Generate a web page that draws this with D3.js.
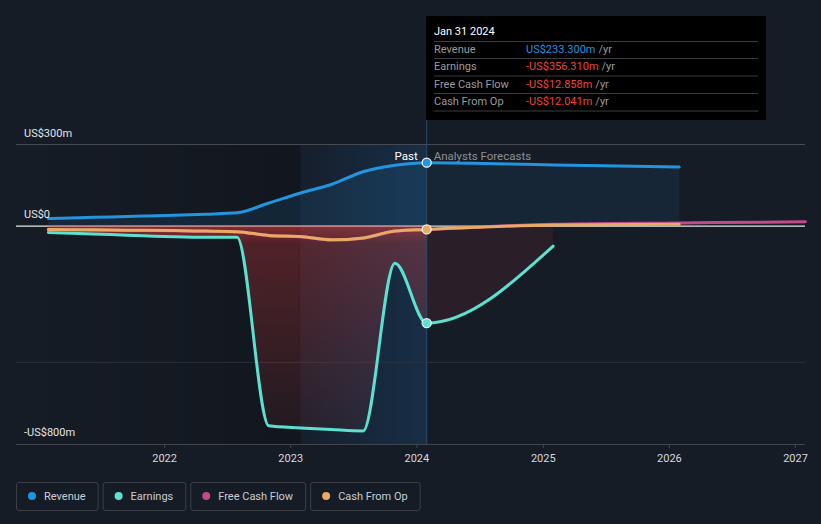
<!DOCTYPE html>
<html><head><meta charset="utf-8">
<script src="https://cdn.jsdelivr.net/npm/d3@7"></script>
<style>
html,body{margin:0;padding:0;background:#161c26;}
svg{display:block;font-family:Roboto,"Open Sans",sans-serif;}
</style></head><body>
<svg id="chart" width="821" height="524"></svg>
<script>
// ---- data ----
const pastDates = ["2021-01-31","2021-04-30","2021-07-31","2021-10-31","2022-01-31","2022-04-30","2022-07-31","2022-10-31","2023-01-31","2023-04-30","2023-07-31","2023-10-31","2024-01-31"];
const revenuePast  = [28, 31, 34, 37, 40, 44, 49, 85, 122, 153, 200, 224, 233.3];
const earningsPast = [-23, -27, -31, -35, -39, -41, -41, -733, -741, -747, -752, -136, -356.31];
const fcfPast      = [-13, -14, -15, -16, -17, -19, -21, -35, -39, -51, -44, -19, -12.858];
const cfoPast      = [-12, -13, -14, -15, -16, -18, -20, -34, -38, -50, -43, -18, -12.041];
const forecastDates    = ["2025-01-31","2026-01-31","2027-01-31"];
const revenueForecast  = [225, 217];
const earningsForecast = [-73];
const fcfForecast      = [7, 12, 16];
const cfoForecast      = [4, 7];
const yearTicks = [2022, 2023, 2024, 2025, 2026, 2027];
const yLabelValues = [300, 0, -800];
const yLabelTexts = ["US$300m", "US$0", "-US$800m"];
const yGridValues = [300, -500];
const seriesNames = ["Revenue", "Earnings", "Free Cash Flow", "Cash From Op"];
const seriesColors = ["#2394df", "#5ce0d0", "#c2498a", "#e8aa64"];
const tooltipTitle = "Jan 31 2024";
const tooltipValues = ["US$233.300m", "-US$356.310m", "-US$12.858m", "-US$12.041m"];

const W = 821, H = 524;
const parse = d3.timeParse("%Y-%m-%d");
const nowDate = parse(pastDates[pastDates.length - 1]);
const highlightStart = parse("2023-01-31");

function build(past, fc) {
  const a = past.map((v, i) => ({date: parse(pastDates[i]), v}));
  fc.forEach((v, i) => a.push({date: parse(forecastDates[i]), v}));
  return a;
}
const revenue = build(revenuePast, revenueForecast);
const earnings = build(earningsPast, earningsForecast);
const fcf = build(fcfPast, fcfForecast);
const cfo = build(cfoPast, cfoForecast);

const x = d3.scaleTime().domain([new Date(2021, 0, 1), new Date(2027, 0, 1)]).range([38, 795]);
const y = d3.scaleLinear().domain([-800, 300]).range([444, 144.5]);
const plotL = 16, plotR = 805, plotT = y(300), plotB = 444;
const xNow = x(nowDate), xHl = x(highlightStart);

const svg = d3.select("#chart");
const defs = svg.append("defs");

// gradients
const gPast = defs.append("linearGradient").attr("id", "pastShade").attr("x1", 0).attr("x2", 1).attr("y1", 0).attr("y2", 0);
gPast.append("stop").attr("offset", 0).attr("stop-color", "#000").attr("stop-opacity", 0);
gPast.append("stop").attr("offset", 1).attr("stop-color", "#000").attr("stop-opacity", 0.2);
const gHl = defs.append("linearGradient").attr("id", "hl").attr("x1", 0).attr("x2", 1).attr("y1", 0).attr("y2", 0);
gHl.append("stop").attr("offset", 0).attr("stop-color", "#1a5a94").attr("stop-opacity", 0.05);
gHl.append("stop").attr("offset", 1).attr("stop-color", "#1a5a94").attr("stop-opacity", 0.3);
const gRed = defs.append("linearGradient").attr("id", "redPast").attr("gradientUnits", "userSpaceOnUse")
  .attr("x1", 0).attr("x2", 0).attr("y1", y(0)).attr("y2", plotB);
gRed.append("stop").attr("offset", 0).attr("stop-color", "#e03c3c").attr("stop-opacity", 0.55);
gRed.append("stop").attr("offset", 0.08).attr("stop-color", "#e03c3c").attr("stop-opacity", 0.3);
gRed.append("stop").attr("offset", 1).attr("stop-color", "#e03c3c").attr("stop-opacity", 0.06);

defs.append("clipPath").attr("id", "clipPast").append("rect").attr("x", 0).attr("y", 0).attr("width", xNow).attr("height", H);
defs.append("clipPath").attr("id", "clipFc").append("rect").attr("x", xNow).attr("y", 0).attr("width", W - xNow).attr("height", H);

svg.append("rect").attr("width", W).attr("height", H).attr("fill", "#161c26");

// past shading and highlight
svg.append("rect").attr("x", plotL).attr("y", plotT).attr("width", xHl - plotL).attr("height", plotB - plotT).attr("fill", "url(#pastShade)");
svg.append("rect").attr("x", xHl).attr("y", plotT).attr("width", xNow - xHl).attr("height", plotB - plotT).attr("fill", "url(#hl)");

// gridlines
svg.selectAll("line.grid").data(yGridValues).join("line").attr("class", "grid")
  .attr("x1", plotL).attr("x2", plotR).attr("y1", d => y(d)).attr("y2", d => y(d))
  .attr("stroke", (d, i) => i === 0 ? "#464a52" : "#2c313a").attr("stroke-width", 1);

// x axis
const xAxis = d3.axisBottom(x).tickValues(yearTicks.map(yr => new Date(yr, 0, 1))).tickFormat(d3.timeFormat("%Y")).tickSize(4).tickPadding(6);
const gx = svg.append("g").attr("transform", `translate(0,${plotB})`).call(xAxis);
gx.select(".domain").remove();
gx.selectAll(".tick line").attr("stroke", "#41464e");
gx.selectAll(".tick text").attr("fill", "#d6d8db").attr("font-size", 11).attr("font-family", "Roboto");
svg.append("line").attr("x1", plotL).attr("x2", plotR).attr("y1", plotB + 0.5).attr("y2", plotB + 0.5).attr("stroke", "#41464e");

// zero line
svg.append("line").attr("x1", plotL).attr("x2", plotR).attr("y1", y(0)).attr("y2", y(0)).attr("stroke", "#e6e6e6").attr("stroke-width", 1.2);

// areas
const area = d3.area().x(d => x(d.date)).y0(y(0)).y1(d => y(d.v)).curve(d3.curveMonotoneX);
svg.append("path").datum(revenue).attr("d", area).attr("clip-path", "url(#clipPast)").attr("fill", "#2394df").attr("fill-opacity", 0.12);
svg.append("path").datum(revenue).attr("d", area).attr("clip-path", "url(#clipFc)").attr("fill", "#2394df").attr("fill-opacity", 0.09);
svg.append("path").datum(earnings).attr("d", area).attr("clip-path", "url(#clipPast)").attr("fill", "url(#redPast)");
svg.append("path").datum(earnings).attr("d", area).attr("clip-path", "url(#clipFc)").attr("fill", "#e03c3c").attr("fill-opacity", 0.1);

// now line
svg.append("line").attr("x1", xNow).attr("x2", xNow).attr("y1", 120).attr("y2", plotB).attr("stroke", "#2a4a68").attr("stroke-width", 1);

// lines
const line = d3.line().x(d => x(d.date)).y(d => y(d.v)).curve(d3.curveMonotoneX);
const allSeries = [revenue, earnings, fcf, cfo];
allSeries.forEach((s, i) => {
  svg.append("path").datum(s).attr("d", line).attr("fill", "none")
    .attr("stroke", seriesColors[i]).attr("stroke-width", 3).attr("stroke-linejoin", "round").attr("stroke-linecap", "round");
});

// dots at now
[0, 1, 3].forEach(i => {
  const s = allSeries[i];
  const p = s[pastDates.length - 1];
  svg.append("circle").attr("cx", x(p.date)).attr("cy", y(p.v)).attr("r", 4.5)
    .attr("fill", seriesColors[i]).attr("stroke", "#f2f2f2").attr("stroke-width", 1.3);
});

// y labels
svg.selectAll("text.ylab").data(yLabelValues).join("text").attr("class", "ylab")
  .attr("x", 24).attr("y", d => y(d) - 8).text((d, i) => yLabelTexts[i])
  .attr("fill", "#e3e5e8").attr("font-size", 11);

// Past / forecast labels
svg.append("text").attr("x", xNow - 9).attr("y", 160).attr("text-anchor", "end").text("Past")
  .attr("fill", "#ffffff").attr("font-size", 11.5);
svg.append("text").attr("x", xNow + 7).attr("y", 160).text("Analysts Forecasts")
  .attr("fill", "#8b9097").attr("font-size", 11.5);

// tooltip
const tt = svg.append("g");
tt.append("rect").attr("x", 426).attr("y", 16).attr("width", 340).attr("height", 104).attr("fill", "#000");
tt.append("text").attr("x", 434).attr("y", 35).text(tooltipTitle).attr("fill", "#fff").attr("font-size", 11);
const rowSep = [41.5, 58.5, 76, 93.5, 111];
rowSep.forEach(yy => tt.append("line").attr("x1", 434).attr("x2", 758).attr("y1", yy).attr("y2", yy).attr("stroke", "#3c3c3c"));
seriesNames.forEach((n, i) => {
  const by = rowSep[i] + 11.5;
  tt.append("text").attr("x", 434).attr("y", by).text(n).attr("fill", "#9b9b9b").attr("font-size", 11);
  const vt = tt.append("text").attr("x", 526).attr("y", by).text(tooltipValues[i])
    .attr("fill", i === 0 ? "#2394df" : "#f0443c").attr("font-size", 11);
  const w = vt.node().getComputedTextLength();
  tt.append("text").attr("x", 526 + w + 3).attr("y", by).text("/yr").attr("fill", "#9b9b9b").attr("font-size", 11);
});

// legend
let lx = 16;
seriesNames.forEach((n, i) => {
  const g = svg.append("g");
  const t = g.append("text").attr("x", lx + 28).attr("y", 500).text(n).attr("fill", "#c9cdd3").attr("font-size", 11);
  const w = t.node().getComputedTextLength();
  const bw = 28 + w + 12;
  g.insert("rect", "text").attr("x", lx + 0.5).attr("y", 482.5).attr("width", bw).attr("height", 28).attr("rx", 2.5)
    .attr("fill", "none").attr("stroke", "#3a3f48");
  g.append("circle").attr("cx", lx + 16).attr("cy", 496).attr("r", 4).attr("fill", seriesColors[i]);
  lx += bw + 5;
});
</script>
</body></html>
